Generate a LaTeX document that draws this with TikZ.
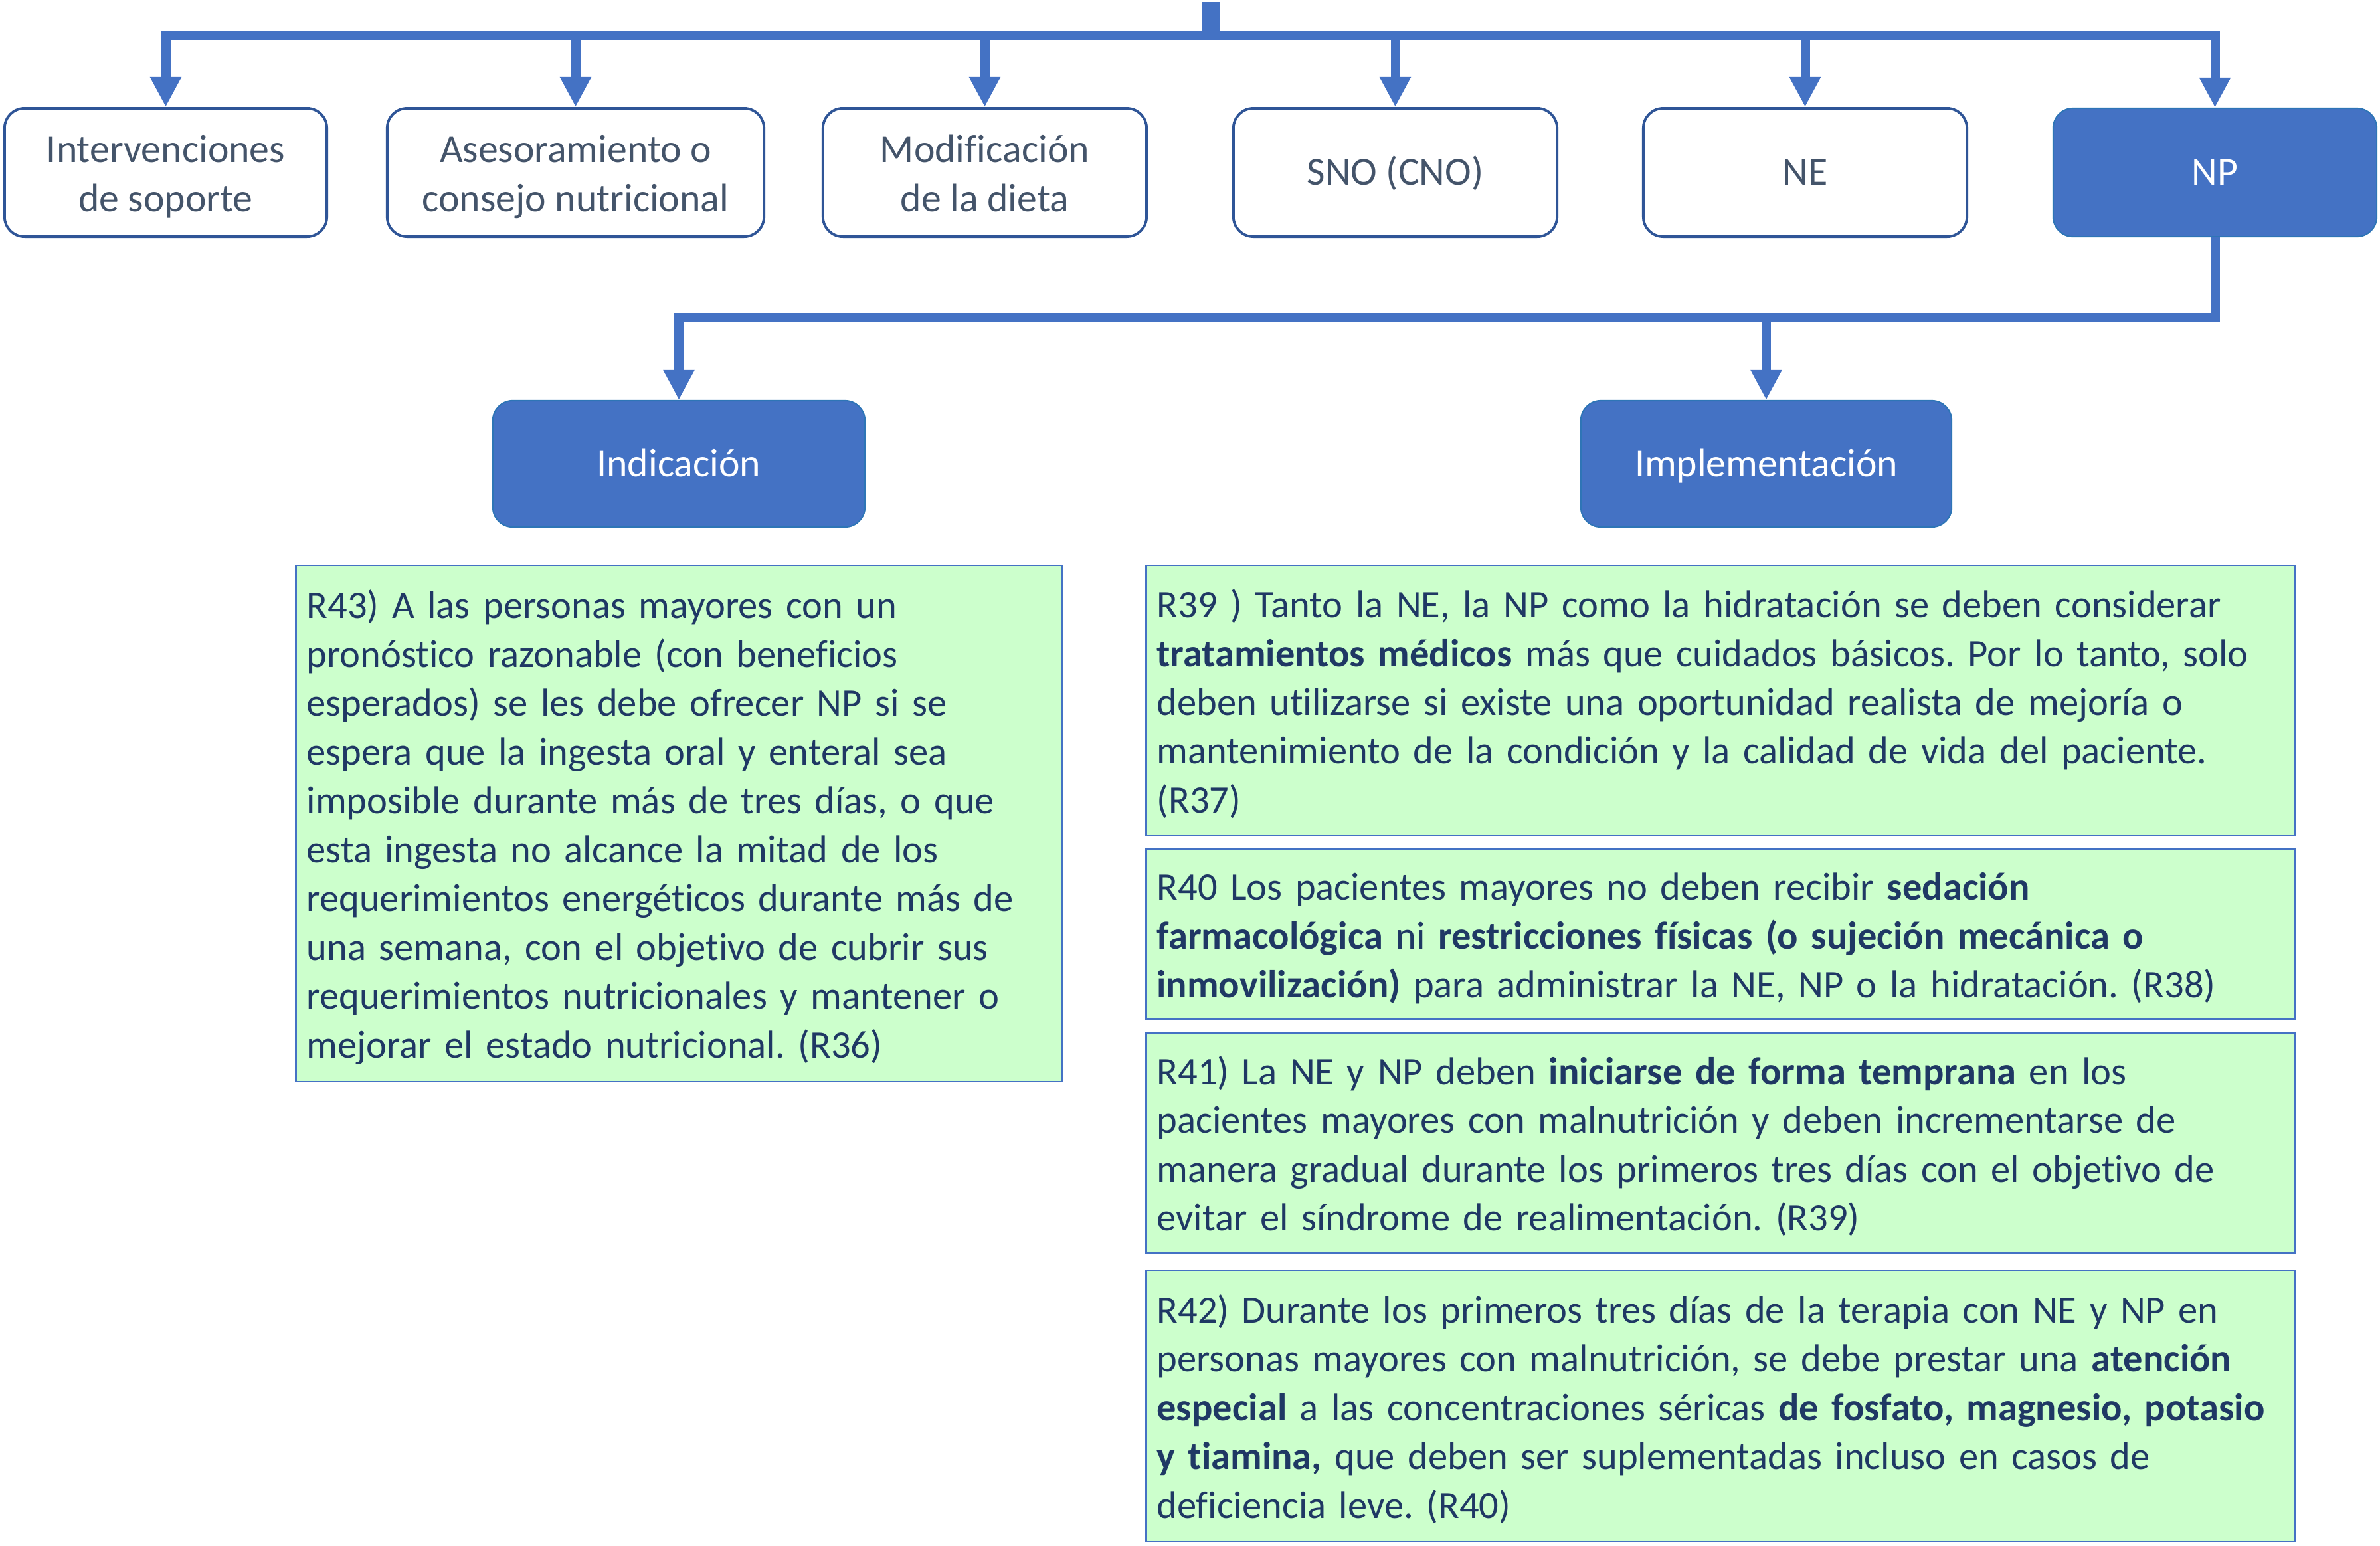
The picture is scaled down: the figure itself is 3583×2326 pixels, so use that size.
\documentclass[tikz,border=0pt]{standalone}
\usepackage{fontspec}
\setmainfont{Carlito}[Ligatures=NoCommon]
\usetikzlibrary{arrows.meta}
\definecolor{barblue}{HTML}{4472C4}
\definecolor{edgeblue}{HTML}{2F5597}
\definecolor{boxtext}{HTML}{44546A}
\definecolor{greenfill}{HTML}{CCFFCC}
\definecolor{greentext}{HTML}{1F3864}
\definecolor{greenedge}{HTML}{4472C4}
\definecolor{filledge}{HTML}{2E75B6}
\newcommand\bodyfont{\fontsize{17pt}{20.9pt}\selectfont}
\newcommand\greenfont{\fontsize{16.65pt}{20.9pt}\selectfont\frenchspacing}
\newcommand\rl[1]{\mbox{#1}}
\newcommand\topst{\rule{0pt}{17.5pt}}
\newcommand\botst{\rule[-5pt]{0pt}{5pt}}
\begin{document}
\begin{tikzpicture}[x=0.01cm,y=-0.01cm,
  topbox/.style={draw=edgeblue, line width=1.1pt, rounded corners=0.3cm, fill=white,
    text=boxtext, minimum height=1.93cm, align=center, font=\bodyfont, inner sep=0pt},
  single/.style={text height=12pt, text depth=1.2pt},
  fillbox/.style={draw=filledge, line width=0.6pt, rounded corners=0.3cm, fill=barblue,
    text=white, minimum height=1.90cm, align=center, font=\bodyfont, inner sep=0pt, single},
  greenbox/.style={draw=greenedge, line width=0.7pt, fill=greenfill, text=greentext,
    font=\greenfont, align=left, inner xsep=0.16cm, inner ysep=0pt},
  conn/.style={draw=barblue, line width=0.14cm},
  arr/.style={-{Triangle[length=0.45cm,width=0.44cm]}}
]
\useasboundingbox (0,0) rectangle (3583,2326);

% top row
\node[topbox, minimum width=4.85cm] (b1) at (249.5,259.5) {\topst Intervenciones\\de soporte\botst};
\node[topbox, minimum width=5.67cm] (b2) at (866.5,259.5) {\topst Asesoramiento o\\consejo nutricional\botst};
\node[topbox, minimum width=4.87cm] (b3) at (1482.5,259.5) {\topst Modificación\\de la dieta\botst};
\node[topbox, single, minimum width=4.87cm] (b4) at (2100.5,259.5) {SNO (CNO)};
\node[topbox, single, minimum width=4.87cm] (b5) at (2717.5,259.5) {NE};
\node[fillbox, minimum width=4.87cm, minimum height=1.93cm] (b6) at (3334.5,259.5) {NP};

% second row
\node[fillbox, minimum width=5.60cm] (ind) at (1022,698) {Indicación};
\node[fillbox, minimum width=5.58cm] (impl) at (2659,698) {Implementación};

% connectors top
\coordinate (top) at (1822,3);
\coordinate (hub) at (1822,53);
\draw[barblue, line width=0.27cm] (top) -- (hub);
\foreach \b in {b1,b2,b3,b4,b5,b6}{
  \draw[conn,arr] (hub) -| (\b.north);
}

% connectors NP
\coordinate (jn) at (3334.5,478);
\draw[conn,arr] (b6.south) -- (jn) -| (ind.north);
\draw[conn,arr] (jn) -| (impl.north);

% green boxes
\node[greenbox, text width=11.2cm, minimum height=7.77cm] (r43) at (1022,1239.5) {%
\rl{\topst R43) A las personas mayores con un}\\
\rl{pronóstico razonable (con beneficios}\\
\rl{esperados) se les debe ofrecer NP si se}\\
\rl{espera que la ingesta oral y enteral sea}\\
\rl{imposible durante más de tres días, o que}\\
\rl{esta ingesta no alcance la mitad de los}\\
\rl{requerimientos energéticos durante más de}\\
\rl{una semana, con el objetivo de cubrir sus}\\
\rl{requerimientos nutricionales y mantener o}\\
\rl{mejorar el estado nutricional. (R36)\botst}};

\node[greenbox, text width=16.97cm, minimum height=4.07cm] (r39) at (2590.5,1054.5) {%
\rl{\topst R39 ) Tanto la NE, la NP como la hidratación se deben considerar}\\
\rl{\textbf{tratamientos médicos} más que cuidados básicos. Por lo tanto, solo}\\
\rl{deben utilizarse si existe una oportunidad realista de mejoría o}\\
\rl{mantenimiento de la condición y la calidad de vida del paciente.}\\
\rl{(R37)\botst}};

\node[greenbox, text width=16.97cm, minimum height=2.56cm] (r40) at (2590.5,1406) {%
\rl{\topst R40 Los pacientes mayores no deben recibir \textbf{sedación}}\\
\rl{\textbf{farmacológica} ni \textbf{restricciones físicas (o sujeción mecánica o}}\\
\rl{\textbf{inmovilización)} para administrar la NE, NP o la hidratación. (R38)\botst}};

\node[greenbox, text width=16.97cm, minimum height=3.31cm] (r41) at (2590.5,1720.5) {%
\rl{\topst R41) La NE y NP deben \textbf{iniciarse de forma temprana} en los}\\
\rl{pacientes mayores con malnutrición y deben incrementarse de}\\
\rl{manera gradual durante los primeros tres días con el objetivo de}\\
\rl{evitar el síndrome de realimentación. (R39)\botst}};

\node[greenbox, text width=16.97cm, minimum height=4.08cm] (r42) at (2590.5,2116) {%
\rl{\topst R42) Durante los primeros tres días de la terapia con NE y NP en}\\
\rl{personas mayores con malnutrición, se debe prestar una \textbf{atención}}\\
\rl{\textbf{especial} a las concentraciones séricas \textbf{de fosfato, magnesio, potasio}}\\
\rl{\textbf{y tiamina,} que deben ser suplementadas incluso en casos de}\\
\rl{deficiencia leve. (R40)\botst}};
\end{tikzpicture}
\end{document}
